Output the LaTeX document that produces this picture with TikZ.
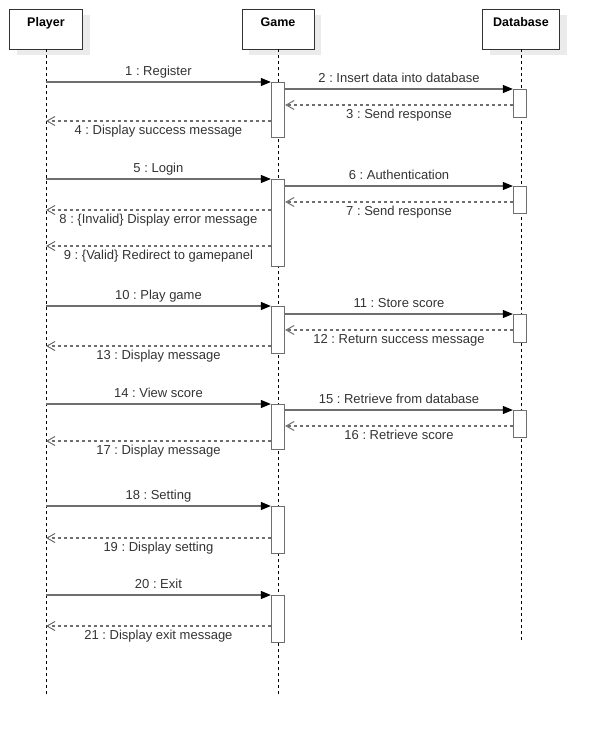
\documentclass[tikz,border=0pt]{standalone}
\usepackage{fontspec}
\setmainfont{Liberation Sans}
\usetikzlibrary{arrows.meta,calc,positioning,shadows}
\frenchspacing

\definecolor{linegray}{HTML}{6E6E6E}
\definecolor{textgray}{HTML}{333333}

\begin{document}
\begin{tikzpicture}[x=1pt, y=-1pt, >=Stealth, font=\fontsize{13}{15}\selectfont,
  head/.style={draw=black!80, line width=0.9pt, fill=white, minimum height=40pt,
    inner ysep=0pt, text height=9pt, text depth=13pt, font=\fontsize{12.5}{14}\selectfont\bfseries,
    copy shadow={shadow xshift=7pt, shadow yshift=-6pt, draw=none, fill=black!8}},
  life/.style={black, line width=0.9pt, dash pattern=on 3pt off 3pt},
  act/.style={draw=linegray, line width=1.3pt, fill=white, minimum width=13pt,
    inner sep=0pt, anchor=north},
  call/.style={draw=linegray, line width=1.1pt, -{Triangle[length=10pt,width=8pt,black]}},
  ret/.style={draw=linegray, line width=1.1pt, dash pattern=on 3pt off 3pt,
    -{Straight Barb[length=8pt,width=9pt,line width=1pt]}},
  up/.style={midway, above, text=textgray, inner ysep=3pt, text height=9pt, text depth=3pt},
  down/.style={midway, below, text=textgray, inner ysep=4pt, text height=9pt, text depth=3pt}]

\useasboundingbox (0,0) rectangle (598,738);

% heads
\node[head, minimum width=73pt] (player) at (46,29) {Player};
\node[head, minimum width=72pt] (game) at (278,29) {Game};
\node[head, minimum width=77pt] (db) at (521,29) {Database};

% lifelines
\coordinate (pend) at (46,695);
\coordinate (gend) at (278,695);
\coordinate (dend) at (521,642);
\draw[life] (player.south) -- (pend);
\draw[life] (game.south) -- (gend);
\draw[life] (db.south) -- (dend);

% activations
\node[act, minimum height=55pt] (g1) at (278,82) {};
\node[act, minimum height=87pt] (g2) at (278,179) {};
\node[act, minimum height=47pt] (g3) at (278,306) {};
\node[act, minimum height=45pt] (g4) at (278,404) {};
\node[act, minimum height=47pt] (g5) at (278,506) {};
\node[act, minimum height=47pt] (g6) at (278,595) {};
\node[act, minimum height=28pt] (d1) at (520,89) {};
\node[act, minimum height=27pt] (d2) at (520,186) {};
\node[act, minimum height=28pt] (d3) at (520,314) {};
\node[act, minimum height=27pt] (d4) at (520,410) {};

% return levels
\coordinate (y3) at (0,105);
\coordinate (y4) at (0,121);
\coordinate (y7) at (0,202);
\coordinate (y8) at (0,210);
\coordinate (y9) at (0,246);
\coordinate (y12) at (0,330);
\coordinate (y13) at (0,346);
\coordinate (y16) at (0,426);
\coordinate (y17) at (0,441);
\coordinate (y19) at (0,538);
\coordinate (y21) at (0,626);

% register
\draw[call] (player |- g1.north) -- (g1.north west) node[up] {1 : Register};
\draw[call] (g1.east |- d1.north) -- (d1.north west) node[up] {2 : Insert data into database};
\draw[ret] (d1.west |- y3) -- (g1.east |- y3) node[down] {3 : Send response};
\draw[ret] (g1.west |- y4) -- (player |- y4) node[down] {4 : Display success message};

% login
\draw[call] (player |- g2.north) -- (g2.north west) node[up] {5 : Login};
\draw[call] (g2.east |- d2.north) -- (d2.north west) node[up] {6 : Authentication};
\draw[ret] (d2.west |- y7) -- (g2.east |- y7) node[down] {7 : Send response};
\draw[ret] (g2.west |- y8) -- (player |- y8) node[down] {8 : \{Invalid\} Display error message};
\draw[ret] (g2.west |- y9) -- (player |- y9) node[down] {9 : \{Valid\} Redirect to gamepanel};

% play
\draw[call] (player |- g3.north) -- (g3.north west) node[up] {10 : Play game};
\draw[call] (g3.east |- d3.north) -- (d3.north west) node[up] {11 : Store score};
\draw[ret] (d3.west |- y12) -- (g3.east |- y12) node[down] {12 : Return success message};
\draw[ret] (g3.west |- y13) -- (player |- y13) node[down] {13 : Display message};

% score
\draw[call] (player |- g4.north) -- (g4.north west) node[up] {14 : View score};
\draw[call] (g4.east |- d4.north) -- (d4.north west) node[up] {15 : Retrieve from database};
\draw[ret] (d4.west |- y16) -- (g4.east |- y16) node[down] {16 : Retrieve score};
\draw[ret] (g4.west |- y17) -- (player |- y17) node[down] {17 : Display message};

% setting and exit
\draw[call] (player |- g5.north) -- (g5.north west) node[up] {18 : Setting};
\draw[ret] (g5.west |- y19) -- (player |- y19) node[down] {19 : Display setting};
\draw[call] (player |- g6.north) -- (g6.north west) node[up] {20 : Exit};
\draw[ret] (g6.west |- y21) -- (player |- y21) node[down] {21 : Display exit message};
\end{tikzpicture}
\end{document}
